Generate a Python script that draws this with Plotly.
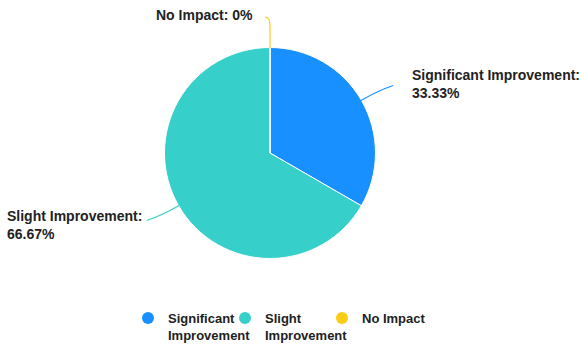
import math
import plotly.graph_objects as go

categories = ["Significant Improvement", "Slight Improvement", "No Impact"]
legend_names = ["Significant<br>Improvement", "Slight<br>Improvement", "No Impact"]
values = [1, 2, 0]
colors = ["#1890FF", "#36CFC9", "#FACC14"]

W, H = 582, 344
CX, CY, R = 270, 153, 105
DOM_HALF, DOM_CY = 105.5, 153

def px(x):
    return x / W

def py(y):
    return 1 - y / H

fig = go.Figure()
fig.add_trace(go.Pie(
    labels=categories, values=values, sort=False, direction="clockwise", rotation=0,
    marker=dict(colors=colors, line=dict(color="white", width=1)),
    textinfo="none", hoverinfo="label+percent", showlegend=False,
    domain=dict(x=[px(CX - DOM_HALF), px(CX + DOM_HALF)],
                y=[py(DOM_CY + DOM_HALF), py(DOM_CY - DOM_HALF)]),
))

# legend entries with circle symbols
for name, c in zip(legend_names, colors):
    fig.add_trace(go.Scatter(x=[None], y=[None], mode="markers", name=name,
                             marker=dict(color=c, size=13, symbol="circle")))
# invisible spacer entry so the last real label is not clipped
fig.add_trace(go.Scatter(x=[None], y=[None], mode="markers", name=" ",
                         marker=dict(color="rgba(0,0,0,0)", size=1), hoverinfo="skip"))

total = sum(values)
shapes, annotations = [], []
cum = 0
FONT = dict(family="Liberation Sans, Arial", size=14, color="#222")
for cat, v, c in zip(categories, values, colors):
    pct = 100 * v / total
    mid = (cum + v / 2) / total * 2 * math.pi
    cum += v
    dx, dy = math.sin(mid), -math.cos(mid)
    x0, y0 = CX + R * dx, CY + R * dy
    txt = f"{pct:.2f}%".replace(".00%", "%")
    if abs(dx) < 1e-6:
        # zero-size slice at the top: vertical leader that bends left
        xa, ya = x0, y0 - 22
        x1, y1 = x0 - 5, y0 - 31
        path = (f"M {px(x0)},{py(y0)} L {px(xa)},{py(ya)} "
                f"Q {px(x0)},{py(y1)} {px(x1)},{py(y1)}")
        label = f"{cat}: {txt}"
        tx, ty, side = x1 - 10, y1 - 2, -1
    else:
        side = 1 if dx > 0 else -1
        xm, ym = CX + (R + 20) * dx, CY + (R + 20) * dy
        x1, y1 = xm + side * 15, ym + 10 * dy
        path = f"M {px(x0)},{py(y0)} Q {px(xm)},{py(ym)} {px(x1)},{py(y1)}"
        label = f"{cat}:<br>{txt}"
        gap = 17 if side > 0 else 3
        tx, ty = x1 + side * gap, y1 + 6 * dy + 1.5
    shapes.append(dict(type="path", xref="paper", yref="paper", path=path,
                       line=dict(color=c, width=1.2)))
    annotations.append(dict(x=px(tx), y=py(ty), xref="paper", yref="paper",
                            text=f"<b>{label}</b>", showarrow=False,
                            xanchor="left" if side > 0 else "right", yanchor="middle",
                            align="left", font=FONT))

fig.update_layout(
    width=W, height=H, margin=dict(l=0, r=0, t=0, b=0, autoexpand=False),
    paper_bgcolor="white", plot_bgcolor="white",
    xaxis=dict(visible=False), yaxis=dict(visible=False),
    shapes=shapes, annotations=annotations,
    legend=dict(orientation="h", x=px(128), xanchor="left", y=-6 / H, yanchor="bottom",
                font=dict(family="Liberation Sans, Arial", size=13, color="#222", weight="bold"),
                itemsizing="constant", traceorder="normal", entrywidth=52, valign="top",
                bgcolor="rgba(0,0,0,0)"),
)
fig.write_html("out.html")
